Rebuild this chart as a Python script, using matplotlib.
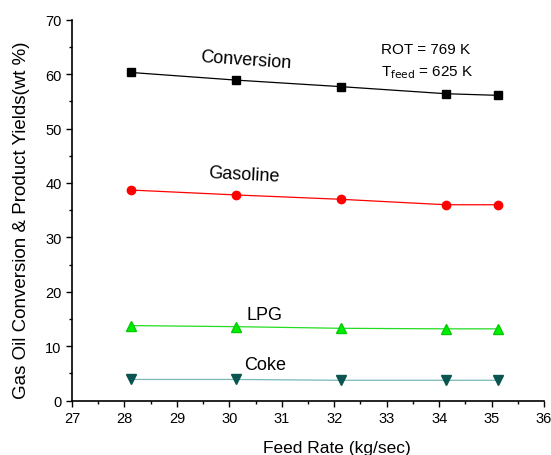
import matplotlib.pyplot as plt

plt.rcParams['font.family'] = ['Liberation Sans', 'DejaVu Sans']

feed_rate = [28.13, 30.13, 32.13, 34.13, 35.13]
conversion = [60.3, 58.9, 57.7, 56.4, 56.1]
gasoline = [38.7, 37.8, 37.0, 36.0, 36.0]
lpg = [13.8, 13.6, 13.3, 13.2, 13.2]
coke = [3.9, 3.9, 3.75, 3.75, 3.75]

fig = plt.figure(figsize=(5.51, 4.56), dpi=100)
ax = fig.add_axes([0.1307, 0.1191, 0.8566, 0.8355])

ax.plot(feed_rate, conversion, '-', color='black', lw=0.9,
        marker='s', ms=6, mfc='black', mec='black')
ax.plot(feed_rate, gasoline, '-', color='red', lw=0.9,
        marker='o', ms=6, mfc='red', mec='red')
ax.plot(feed_rate, lpg, '-', color='#22dd22', lw=0.9,
        marker='^', ms=7, mfc='#00ee00', mec='#00cc00')
ax.plot(feed_rate, coke, '-', color='#7ab8b8', lw=0.9,
        marker='v', ms=7, mfc='#0a5550', mec='#0a5550')

# series labels next to the curves
ax.text(30.31, 62.6, 'Conversion', fontsize=13, ha='center', va='center', rotation=-4)
ax.text(30.27, 41.6, 'Gasoline', fontsize=13, ha='center', va='center', rotation=-3)
ax.text(30.67, 15.9, 'LPG', fontsize=13, ha='center', va='center')
ax.text(30.69, 6.7, 'Coke', fontsize=13, ha='center', va='center')

ax.text(32.89, 64.6, 'ROT = 769 K', fontsize=11, ha='left', va='center')
ax.text(32.89, 60.4, r'T$_{\mathrm{feed}}$ = 625 K', fontsize=11, ha='left', va='center')

ax.set_xlim(27, 36)
ax.set_ylim(0, 70)
ax.set_xticks(range(27, 37))
ax.set_yticks(range(0, 71, 10))
ax.set_xticks([x + 0.5 for x in range(27, 36)], minor=True)
ax.set_yticks(range(5, 70, 10), minor=True)
ax.tick_params(which='major', direction='out', length=4, width=1, labelsize=10.5)
ax.tick_params(which='minor', direction='out', length=2.5, width=1)

ax.spines['top'].set_visible(False)
ax.spines['right'].set_visible(False)
ax.spines['left'].set_linewidth(1.2)
ax.spines['bottom'].set_linewidth(1.2)

ax.set_xlabel('Feed Rate (kg/sec)', fontsize=12.5, va='center')
ax.set_ylabel('Gas Oil Conversion & Product Yields(wt %)', fontsize=13.5, va='center')
ax.xaxis.set_label_coords(0.561, -0.124)
ax.yaxis.set_label_coords(-0.106, 0.477)

fig.savefig('out.png', dpi=100)
